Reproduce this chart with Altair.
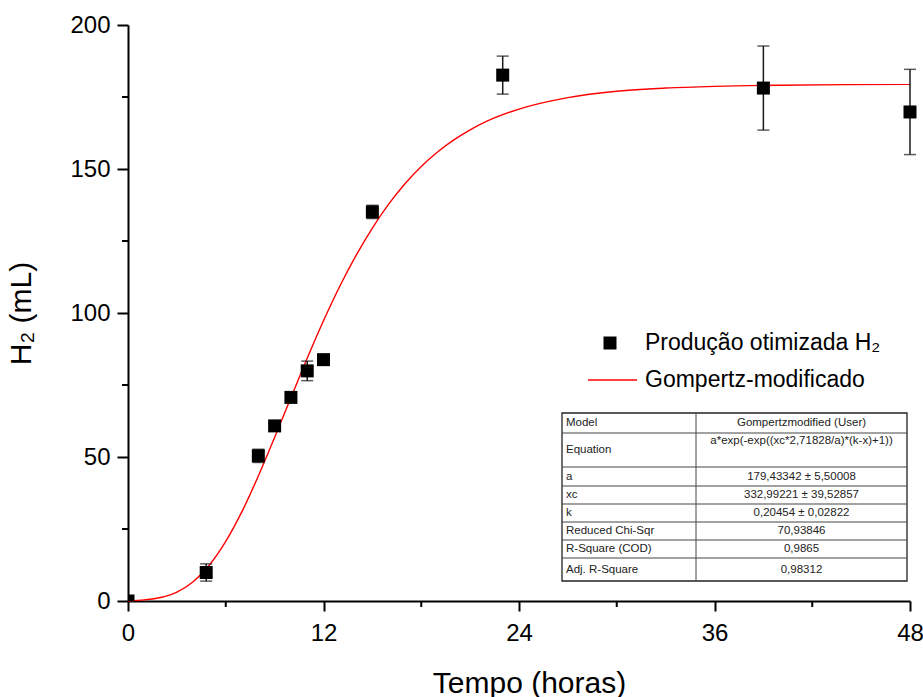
import altair as alt
import pandas as pd

# ---------------- data ----------------
pt_t = [0, 4.8, 8, 9, 10, 11, 12, 15, 23, 39, 48]
pt_y = [0, 9.9, 50.4, 60.8, 70.7, 79.9, 83.8, 135.1, 182.6, 178.1, 169.8]
pt_err = [0, 3.0, 2.3, 1.0, 1.0, 3.4, 1.0, 2.3, 6.6, 14.6, 14.8]

curve_t = [0, 1, 2, 3, 4, 5, 6, 7, 8, 9, 10, 11, 12, 13, 14, 15, 16, 17, 18, 19,
           20, 21, 22, 24, 27, 30, 33, 36, 40, 44, 48]
curve_y = [0.1, 0.4, 1.2, 3.1, 6.7, 12.5, 20.7, 31.1, 43.4, 56.8, 70.6, 84.3, 97.3,
           109.3, 120.0, 129.5, 137.8, 144.9, 150.9, 155.9, 160.1, 163.6, 166.5,
           170.8, 174.8, 177.0, 178.1, 178.7, 179.1, 179.3, 179.4]

x_major = [0, 12, 24, 36, 48]
x_minor = [6, 18, 30, 42]
y_major = [0, 50, 100, 150, 200]
y_minor = [25, 75, 125, 175]

legend_labels = ["Produção otimizada H₂", "Gompertz-modificado"]

table_labels = ["Model", "Equation", "a", "xc", "k", "Reduced Chi-Sqr",
                "R-Square (COD)", "Adj. R-Square"]
table_values = ["Gompertzmodified (User)", "a*exp(-exp((xc*2,71828/a)*(k-x)+1))",
                "179,43342 ± 5,50008", "332,99221 ± 39,52857", "0,20454 ± 0,02822",
                "70,93846", "0,9865", "0,98312"]

# ---------------- frames ----------------
pts = pd.DataFrame({"t": pt_t, "y": pt_y, "err": pt_err})
pts["lo"] = pts["y"] - pts["err"]
pts["hi"] = pts["y"] + pts["err"]
curve = pd.DataFrame({"t": curve_t, "y": curve_y})

FONT = "Liberation Sans"
W, H = 782, 576

xscale = alt.Scale(domain=[0, 48], nice=False, zero=False)
yscale = alt.Scale(domain=[0, 200], nice=False, zero=False)

xaxis = alt.Axis(values=x_major, format="d", grid=False, labelFont=FONT, labelFontSize=24,
                 labelColor="black", labelPadding=10, labelFlush=False, labelOverlap=False,
                 domainColor="black", domainWidth=2,
                 tickColor="black", tickWidth=2, tickSize=10, title="Tempo (horas)",
                 titleFont=FONT, titleFontSize=30, titleFontWeight="normal",
                 titleColor="black", titleX=401, titleY=91, titleBaseline="alphabetic")
yaxis = alt.Axis(values=y_major, format="d", grid=False, labelFont=FONT, labelFontSize=24,
                 labelColor="black", labelPadding=7, labelFlush=False, labelOverlap=False,
                 domainColor="black", domainWidth=2,
                 tickColor="black", tickWidth=2, tickSize=11, title="H₂ (mL)",
                 titleFont=FONT, titleFontSize=30, titleFontWeight="normal",
                 titleColor="black", titleX=-98, titleBaseline="alphabetic")


def X(f):
    return alt.X(f, scale=xscale, axis=xaxis, title="Tempo (horas)")


def Y(f):
    return alt.Y(f, scale=yscale, axis=yaxis, title="H₂ (mL)")


line = alt.Chart(curve).mark_line(color="#ff0000", strokeWidth=1.4, interpolate="monotone").encode(
    x=X("t:Q"), y=Y("y:Q"))

err_base = alt.Chart(pts).transform_filter("datum.err > 0")
err_rule = err_base.mark_rule(color="#1a1a1a", strokeWidth=1.5).encode(
    x=X("t:Q"), y=Y("lo:Q"), y2="hi:Q")
cap_lo = err_base.mark_tick(color="#1a1a1a", orient="horizontal", size=12, thickness=1.5).encode(
    x=X("t:Q"), y=Y("lo:Q"))
cap_hi = err_base.mark_tick(color="#1a1a1a", orient="horizontal", size=12, thickness=1.5).encode(
    x=X("t:Q"), y=Y("hi:Q"))

points = alt.Chart(pts).transform_filter("datum.t > 0").mark_point(
    shape="square", filled=True, size=169, color="black", opacity=1).encode(
    x=X("t:Q"), y=Y("y:Q"))
point0 = alt.Chart(pts).transform_filter("datum.t == 0").mark_point(
    shape="square", filled=True, size=169, color="black", opacity=1, clip=True).encode(
    x=X("t:Q"), y=Y("y:Q"))

xminor = alt.Chart(pd.DataFrame({"m": x_minor})).mark_rule(color="black", strokeWidth=2).encode(
    x=X("m:Q"), y=alt.value(H), y2=alt.value(H + 6))
yminor = alt.Chart(pd.DataFrame({"m": y_minor})).mark_rule(color="black", strokeWidth=2).encode(
    y=Y("m:Q"), x=alt.value(-6), x2=alt.value(0))

one = pd.DataFrame({"a": [0]})
leg_sq = alt.Chart(one).mark_point(shape="square", filled=True, size=169, color="black",
                                   opacity=1).encode(x=alt.value(482), y=alt.value(318))
leg_ln = alt.Chart(one).mark_rule(color="#ff0000", strokeWidth=1.4).encode(
    x=alt.value(460), x2=alt.value(509), y=alt.value(355))
leg_t1 = alt.Chart(one).mark_text(align="left", baseline="middle", font=FONT, fontSize=23,
                                  color="black").encode(
    x=alt.value(517), y=alt.value(318), text=alt.value(legend_labels[0]))
leg_t2 = alt.Chart(one).mark_text(align="left", baseline="middle", font=FONT, fontSize=23,
                                  color="black").encode(
    x=alt.value(517), y=alt.value(355), text=alt.value(legend_labels[1]))

# ---------------- table ----------------
TL, TD, TR = 434, 568, 779
rows = [388, 408, 442, 461, 479, 497, 515, 533, 556]
tbl_layers = [alt.Chart(one).mark_rect(fill="white", stroke="#222", strokeWidth=1.3).encode(
    x=alt.value(TL), x2=alt.value(TR), y=alt.value(rows[0]), y2=alt.value(rows[-1]))]
for yy in rows[1:-1]:
    tbl_layers.append(alt.Chart(one).mark_rule(color="#444", strokeWidth=1).encode(
        x=alt.value(TL), x2=alt.value(TR), y=alt.value(yy)))
tbl_layers.append(alt.Chart(one).mark_rule(color="#444", strokeWidth=1).encode(
    x=alt.value(TD), y=alt.value(rows[0]), y2=alt.value(rows[-1])))
for i, (lab, val) in enumerate(zip(table_labels, table_values)):
    cy = (rows[i] + rows[i + 1]) / 2
    vy = rows[i] + 8 if lab == "Equation" else cy
    tbl_layers.append(alt.Chart(one).mark_text(align="left", baseline="middle", font=FONT,
                                               fontSize=11.5, color="#222").encode(
        x=alt.value(TL + 4), y=alt.value(cy), text=alt.value(lab)))
    tbl_layers.append(alt.Chart(one).mark_text(align="center", baseline="middle", font=FONT,
                                               fontSize=11.5, color="#222").encode(
        x=alt.value((TD + TR) / 2), y=alt.value(vy), text=alt.value(val)))

chart = alt.layer(
    line, err_rule, cap_lo, cap_hi, points, point0, xminor, yminor,
    leg_sq, leg_ln, leg_t1, leg_t2, *tbl_layers
).properties(
    width=W, height=H,
    autosize=alt.AutoSizeParams(type="none"),
    padding={"left": 128, "top": 25, "right": 13, "bottom": 96},
    background="white",
).configure_view(stroke=None)

chart.save("out.html", embed_options={"renderer": "svg", "actions": False})
